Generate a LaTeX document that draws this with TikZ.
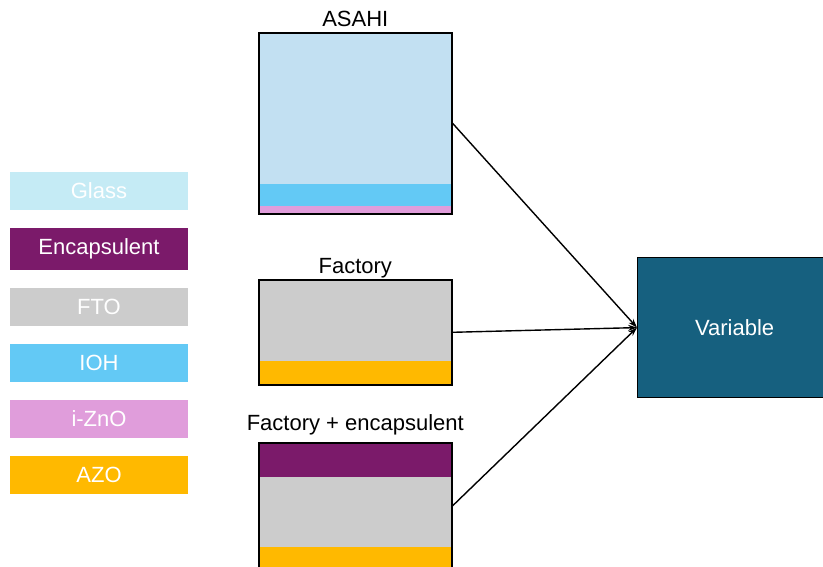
\documentclass[tikz,border=0pt]{standalone}
\usepackage{fontspec}
\setmainfont{Liberation Sans}
\usetikzlibrary{arrows.meta, positioning}
\definecolor{glasslegend}{RGB}{197, 235, 245}
\definecolor{glassstack}{RGB}{194, 224, 242}
\definecolor{encpurple}{RGB}{123, 26, 106}
\definecolor{ftogray}{RGB}{204, 204, 204}
\definecolor{iohblue}{RGB}{99, 201, 245}
\definecolor{znopink}{RGB}{224, 157, 219}
\definecolor{azoyellow}{RGB}{255, 185, 0}
\definecolor{varblue}{RGB}{22, 96, 127}

\begin{document}
\begin{tikzpicture}[x=1pt, y=-1pt,
  legendbox/.style={rectangle, minimum width=178pt, minimum height=38pt, inner sep=0pt, text=white, font=\fontsize{22}{24}\selectfont},
  layer/.style={rectangle, minimum width=193pt, inner sep=0pt, outer sep=0pt, anchor=north west},
  stackframe/.style={rectangle, draw=black, line width=1.6pt, minimum width=193pt, inner sep=0pt, anchor=north west},
  stacklabel/.style={font=\fontsize{22}{24}\selectfont, inner sep=0pt, anchor=base}]
  \useasboundingbox (0,0) rectangle (823,567);

  % Legend
  \node[legendbox, fill=glasslegend] (glass) at (99, 191) {Glass};
  \node[legendbox, fill=encpurple, minimum height=42pt] (encaps) at (99, 249) {Encapsulent};
  \node[legendbox, fill=ftogray] (fto) at (99, 307) {FTO};
  \node[legendbox, fill=iohblue] (ioh) at (99, 363) {IOH};
  \node[legendbox, fill=znopink] (izno) at (99, 419) {i-ZnO};
  \node[legendbox, fill=azoyellow] (azo) at (99, 475) {AZO};

  % ASAHI stack
  \node[layer, fill=glassstack, minimum height=152pt] (asahi-glass) at (258, 32) {};
  \node[layer, fill=iohblue, minimum height=22pt] (asahi-ioh) at (258, 184) {};
  \node[layer, fill=znopink, minimum height=7pt] (asahi-zno) at (258, 206) {};
  \node[stackframe, minimum height=181pt] (asahi) at (258, 32) {};
  \node[stacklabel] (asahi-lbl) at ([yshift=5pt]asahi.north) {ASAHI};

  % Factory stack
  \node[layer, fill=ftogray, minimum height=82pt] (fact-fto) at (258, 279) {};
  \node[layer, fill=azoyellow, minimum height=23pt] (fact-azo) at (258, 361) {};
  \node[stackframe, minimum height=105pt] (factory) at (258, 279) {};
  \node[stacklabel] (factory-lbl) at ([yshift=6pt]factory.north) {Factory};

  % Factory + encapsulent stack
  \node[layer, fill=encpurple, minimum height=35pt] (fenc-enc) at (258, 442) {};
  \node[layer, fill=ftogray, minimum height=70pt] (fenc-fto) at (258, 477) {};
  \node[layer, fill=azoyellow, minimum height=21pt] (fenc-azo) at (258, 547) {};
  \node[stackframe, minimum height=126pt] (factenc) at (258, 442) {};
  \node[stacklabel] (factenc-lbl) at ([yshift=12pt]factenc.north) {Factory + encapsulent};

  % Variable
  \node[draw=black, line width=1.2pt, fill=varblue, text=white, minimum width=194pt, minimum height=140pt, anchor=north west, font=\fontsize{22}{24}\selectfont] (variable) at (637, 257) {Variable};

  % Arrows
  \draw[-{Stealth[length=9pt, width=6pt]}, line width=1.4pt] (asahi.east) -- (variable.west);
  \draw[-{Stealth[length=9pt, width=6pt]}, line width=1.4pt] (factory.east) -- (variable.west);
  \draw[-{Stealth[length=9pt, width=6pt]}, line width=1.4pt] (factenc.east) -- (variable.west);
\end{tikzpicture}
\end{document}
